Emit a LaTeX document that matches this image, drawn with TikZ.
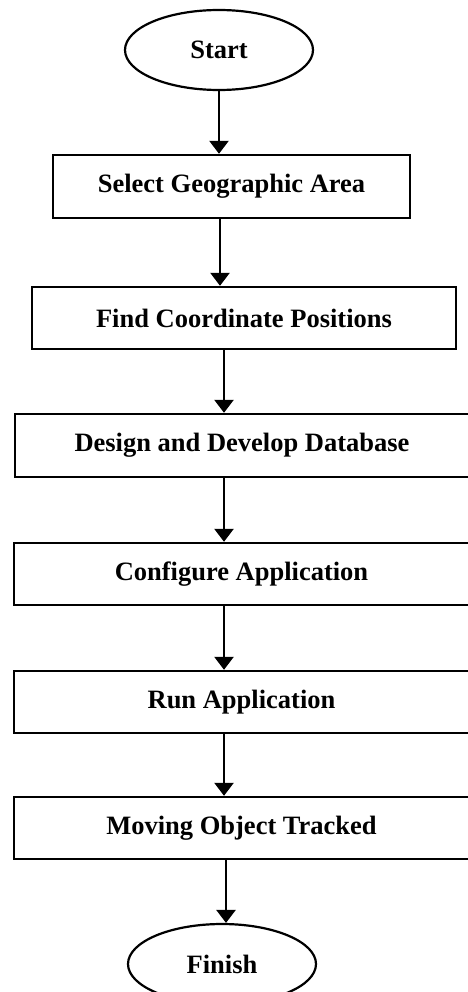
\documentclass[tikz,border=0pt]{standalone}
\usepackage{fontspec}
\setmainfont{Liberation Serif}
\usetikzlibrary{shapes.geometric,arrows.meta}
\tikzset{
  boxstyle/.style={draw, line width=2.4pt, rectangle, inner sep=0pt, font=\fontsize{26.5}{30}\selectfont\bfseries},
  termstyle/.style={draw, line width=2.2pt, ellipse, inner sep=0pt, minimum width=188pt, minimum height=80pt, font=\fontsize{26.5}{30}\selectfont\bfseries},
  flowarrow/.style={line width=2.6pt, -{Triangle[length=13pt,width=19pt]}}
}
\begin{document}
\begin{tikzpicture}[x=1pt,y=-1pt]
\useasboundingbox (0,0) rectangle (467,992);
\fill[white] (0,0) rectangle (467,992);
\node[termstyle] (start) at (219,50) {Start};
\node[boxstyle, minimum width=357pt, minimum height=63pt] (b1) at (231.5,186.5) {Select Geographic Area};
\node[boxstyle, minimum width=424pt, minimum height=62pt] (b2) at (244,318) {Find Coordinate Positions};
\node[boxstyle, minimum width=454pt, minimum height=63pt] (b3) at (242,445.5) {Design and Develop Database};
\node[boxstyle, minimum width=455pt, minimum height=62pt] (b4) at (241.5,574) {Configure Application};
\node[boxstyle, minimum width=455pt, minimum height=62pt] (b5) at (241.5,702) {Run Application};
\node[boxstyle, minimum width=455pt, minimum height=62pt] (b6) at (241.5,828) {Moving Object Tracked};
\node[termstyle] (finish) at (222,964) {Finish};
\draw[flowarrow] (start.south) -- (start.south |- b1.north);
\draw[flowarrow] ([xshift=-11.5pt]b1.south) -- ([xshift=-11.5pt]b1.south |- b2.north);
\draw[flowarrow] ([xshift=-20pt]b2.south) -- ([xshift=-20pt]b2.south |- b3.north);
\draw[flowarrow] ([xshift=-18pt]b3.south) -- ([xshift=-18pt]b3.south |- b4.north);
\draw[flowarrow] ([xshift=-17.5pt]b4.south) -- ([xshift=-17.5pt]b4.south |- b5.north);
\draw[flowarrow] ([xshift=-17.5pt]b5.south) -- ([xshift=-17.5pt]b5.south |- b6.north);
\draw[flowarrow] ([xshift=-15.5pt]b6.south) -- ([xshift=-15.5pt]b6.south |- finish.north);
\end{tikzpicture}
\end{document}
